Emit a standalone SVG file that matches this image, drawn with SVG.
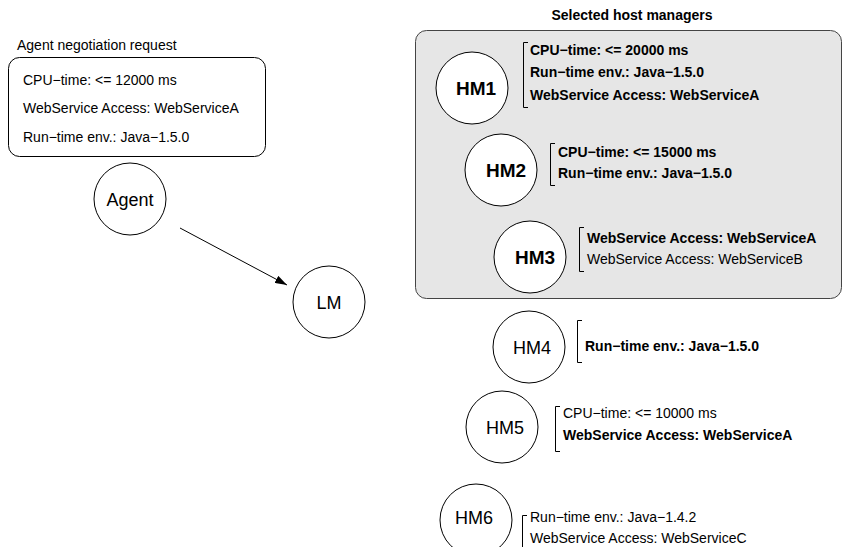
<svg xmlns="http://www.w3.org/2000/svg" width="847" height="547" viewBox="0 0 847 547">
  <defs>
    <marker id="arrow" markerWidth="12" markerHeight="8" refX="12" refY="4" orient="auto" markerUnits="userSpaceOnUse">
      <path d="M0,0 L12,4 L0,8 Z" fill="#000"/>
    </marker>
  </defs>
  <style>
    text { font-family: "Liberation Sans", Arial, Helvetica, sans-serif; fill: #000; }
    .t { font-size: 14px; }
    .b { font-size: 14px; font-weight: bold; }
    .node { fill: #fff; stroke: #000; stroke-width: 1; }
    .lbl { font-size: 18px; text-anchor: middle; }
    .lblb { font-size: 19px; font-weight: bold; text-anchor: middle; }
    .brk { fill: none; stroke: #000; stroke-width: 1; }
    .edge { stroke: #000; stroke-width: 1; fill: none; }
  </style>

  <rect width="847" height="547" fill="#fff"/>

  <!-- request panel -->
  <g id="request">
    <text class="t" x="17" y="50">Agent negotiation request</text>
    <rect x="8.5" y="57.5" width="257" height="99" rx="11" fill="#fff" stroke="#000"/>
    <text class="t" x="23" y="85">CPU−time: &lt;= 12000 ms</text>
    <text class="t" x="23" y="113">WebService Access: WebServiceA</text>
    <text class="t" x="23" y="142">Run−time env.: Java−1.5.0</text>
  </g>

  <!-- selected host managers panel -->
  <g id="selected">
    <text class="b" x="632" y="20" text-anchor="middle">Selected host managers</text>
    <rect x="415.5" y="30.5" width="426" height="268" rx="11" fill="#e6e6e6" stroke="#444"/>
  </g>

  <g id="agent">
    <circle class="node" cx="130" cy="199" r="36"/>
    <text class="lbl" x="130" y="206">Agent</text>
  </g>

  <g id="lm">
    <circle class="node" cx="329" cy="302" r="36"/>
    <text class="lbl" x="329" y="309">LM</text>
  </g>

  <g id="hm1">
    <circle class="node" cx="472" cy="88" r="36"/>
    <text class="lblb" x="476" y="95">HM1</text>
    <path class="brk" d="M528,42.5 H523.5 V107.5 H528"/>
    <text class="b" x="530" y="55">CPU−time: &lt;= 20000 ms</text>
    <text class="b" x="530" y="77">Run−time env.: Java−1.5.0</text>
    <text class="b" x="530" y="100">WebService Access: WebServiceA</text>
  </g>

  <g id="hm2">
    <circle class="node" cx="501" cy="170" r="36"/>
    <text class="lblb" x="506" y="177">HM2</text>
    <path class="brk" d="M555,143.5 H550.5 V185.5 H555"/>
    <text class="b" x="558" y="157">CPU−time: &lt;= 15000 ms</text>
    <text class="b" x="558" y="178">Run−time env.: Java−1.5.0</text>
  </g>

  <g id="hm3">
    <circle class="node" cx="530" cy="257" r="36"/>
    <text class="lblb" x="535" y="264">HM3</text>
    <path class="brk" d="M584,227.5 H579.5 V271.5 H584"/>
    <text class="b" x="587" y="243">WebService Access: WebServiceA</text>
    <text class="t" x="587" y="264">WebService Access: WebServiceB</text>
  </g>

  <g id="hm4">
    <circle class="node" cx="529" cy="347" r="36"/>
    <text class="lbl" x="532" y="354">HM4</text>
    <path class="brk" d="M582,320.5 H577.5 V362.5 H582"/>
    <text class="b" x="585" y="351">Run−time env.: Java−1.5.0</text>
  </g>

  <g id="hm5">
    <circle class="node" cx="502" cy="427" r="36"/>
    <text class="lbl" x="505" y="434">HM5</text>
    <path class="brk" d="M560,406.5 H555.5 V451.5 H560"/>
    <text class="b" x="563" y="440">WebService Access: WebServiceA</text>
    <text class="t" x="563" y="418">CPU−time: &lt;= 10000 ms</text>
  </g>

  <g id="hm6">
    <circle class="node" cx="476" cy="520" r="36"/>
    <text class="lbl" x="474" y="524">HM6</text>
    <path class="brk" d="M527,515.5 H522.5 V550"/>
    <text class="t" x="530" y="522">Run−time env.: Java−1.4.2</text>
    <text class="t" x="530" y="543">WebService Access: WebServiceC</text>
  </g>

  <g id="connectors">
    <line class="edge" x1="180" y1="228" x2="287" y2="285" marker-end="url(#arrow)"/>
  </g>
</svg>
